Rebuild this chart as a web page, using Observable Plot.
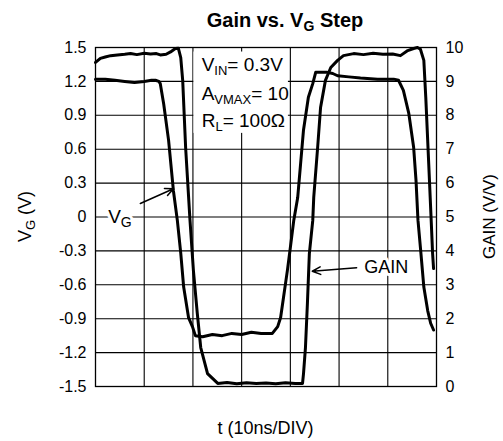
<!DOCTYPE html>
<html>
<head>
<meta charset="utf-8">
<script src="https://cdn.jsdelivr.net/npm/d3@7"></script>
<script src="https://cdn.jsdelivr.net/npm/@observablehq/plot@0.6"></script>
<style>
  html, body { margin: 0; padding: 0; background: #fff; }
  #chart { width: 503px; height: 441px; }
</style>
</head>
<body>
<div id="chart"></div>
<script>
// ---- data (time in ns, 10 ns per division) ----
const gainT = [0, 1, 2, 3.1, 4.5, 6, 7.2, 8.5, 10, 11.3, 12.5, 13.3, 14.5, 15.4, 16.4, 17.0, 17.5, 17.9, 18.5, 19.4, 20.1, 20.9, 21.6, 23.0, 25.1, 27, 29, 31, 33, 35, 37, 39, 41, 42.5, 42.7, 43.1, 43.5, 43.9, 44.6, 44.8, 45.6, 46.2, 47.2, 48.3, 49.7, 50.9, 53.0, 55, 57, 59, 61, 62.6, 64.1, 65.3, 66.1, 66.7, 67.4, 67.8, 68.4, 69.0, 69.2, 69.4];
const gainV = [9.56, 9.68, 9.72, 9.76, 9.78, 9.80, 9.82, 9.79, 9.83, 9.81, 9.82, 9.78, 9.80, 9.87, 9.97, 9.98, 9.7, 9.03, 7.05, 4.9, 3.42, 2.15, 1.15, 0.38, 0.09, 0.12, 0.08, 0.11, 0.09, 0.10, 0.08, 0.11, 0.09, 0.09, 0.38, 1.15, 2.45, 3.92, 4.9, 5.58, 7.05, 8.23, 9.03, 9.41, 9.62, 9.76, 9.82, 9.79, 9.83, 9.80, 9.81, 9.76, 9.91, 9.97, 10.0, 9.95, 9.62, 8.53, 6.58, 4.6, 3.92, 3.48];

const vgT = [0, 2, 4, 6, 8, 10, 11.5, 12.3, 13.0, 13.3, 14.0, 15.0, 16.0, 16.8, 17.5, 18.1, 19.1, 19.9, 20.5, 22, 24, 26, 28, 30, 32, 34, 36.3, 37.4, 38.0, 38.6, 39.4, 40.0, 40.7, 41.5, 42.1, 42.7, 43.7, 44.6, 45.2, 47.6, 48.7, 49.7, 52, 54.4, 57.9, 61.2, 62.2, 63.2, 64.3, 65.3, 65.8, 66.2, 66.8, 67.4, 68.2, 68.8, 69.4];
const vgV = [1.22, 1.22, 1.21, 1.20, 1.19, 1.20, 1.21, 1.21, 1.20, 1.18, 1.0, 0.68, 0.23, -0.03, -0.32, -0.62, -0.89, -0.97, -1.05, -1.06, -1.04, -1.05, -1.03, -1.04, -1.02, -1.03, -1.03, -0.97, -0.89, -0.71, -0.47, -0.27, -0.03, 0.17, 0.47, 0.77, 1.06, 1.18, 1.28, 1.28, 1.27, 1.25, 1.24, 1.23, 1.22, 1.22, 1.21, 1.12, 0.92, 0.62, 0.32, -0.03, -0.32, -0.62, -0.83, -0.94, -1.0];

const leftTicks = [-1.5, -1.2, -0.9, -0.6, -0.3, 0, 0.3, 0.6, 0.9, 1.2, 1.5];
const rightTickLabels = ["0", "1", "2", "3", "4", "5", "6", "7", "8", "9", "10"];
const gridT = [10, 20, 30, 40, 50, 60];
const gridV = [-1.2, -0.9, -0.6, -0.3, 0, 0.3, 0.6, 0.9, 1.2];

const titleText = ["Gain vs. V", "G", " Step"];
const yLabelLeft = ["V", "G", " (V)"];
const yLabelRight = "GAIN (V/V)";
const xLabel = "t (10ns/DIV)";
const noteLines = [["V", "IN", "= 0.3V"], ["A", "VMAX", "= 10"], ["R", "L", "= 100Ω"]];

// annotation anchors (data coordinates: ns, volts)
const noteBox = [{x1: 20.2, x2: 39.6, y1: 0.74, y2: 1.46}];
const noteAnchor = {t: 21.9, v: [1.34, 1.085, 0.845]};
const vgLabel = {t: 2.7, v: 0};
const vgArrow = [{x1: 9.2, y1: 0.12, x2: 16.0, y2: 0.25}];
const gainLabel = {t: 59.8, v: -0.44};
const gainArrow = [{x1: 53.6, y1: -0.45, x2: 44.5, y2: -0.48}];

const gainToV = g => g * 0.3 - 1.5;
const gainData = gainT.map((t, i) => ({t, v: gainToV(gainV[i])}));
const vgData = vgT.map((t, i) => ({t, v: vgV[i]}));

const FONT = "'Liberation Sans', Arial, Helvetica, sans-serif";

const plot = Plot.plot({
  width: 503,
  height: 441,
  marginLeft: 95,
  marginRight: 67,
  marginTop: 47,
  marginBottom: 55,
  style: {fontFamily: FONT, fontSize: "16px", color: "#000", background: "#fff"},
  x: {domain: [0, 70], axis: null},
  y: {domain: [-1.5, 1.5]},
  marks: [
    Plot.ruleX(gridT, {stroke: "#000", strokeWidth: 1.1}),
    Plot.ruleY(gridV, {stroke: "#000", strokeWidth: 1.1}),
    Plot.rect(noteBox, {x1: "x1", x2: "x2", y1: "y1", y2: "y2", fill: "#fff"}),
    Plot.line(vgData, {x: "t", y: "v", stroke: "#000", strokeWidth: 3, curve: "linear"}),
    Plot.line(gainData, {x: "t", y: "v", stroke: "#000", strokeWidth: 3, curve: "linear"}),
    Plot.arrow(vgArrow, {x1: "x1", y1: "y1", x2: "x2", y2: "y2", stroke: "#000", strokeWidth: 1.5, headLength: 9, headAngle: 50}),
    Plot.arrow(gainArrow, {x1: "x1", y1: "y1", x2: "x2", y2: "y2", stroke: "#000", strokeWidth: 1.5, headLength: 9, headAngle: 50}),
    Plot.frame({stroke: "#000", strokeWidth: 1.3}),
    Plot.axisY({ticks: leftTicks, tickSize: 0, tickPadding: 9, fontSize: 16, label: null,
      tickFormat: d => (Math.abs(d) < 1e-9 ? "0" : d.toFixed(1))}),
    Plot.axisY({anchor: "right", ticks: leftTicks, tickSize: 0, tickPadding: 9, fontSize: 16, label: null,
      tickFormat: d => rightTickLabels[leftTicks.indexOf(d)]})
  ]
});

document.getElementById("chart").appendChild(plot);

const sx = plot.scale("x"), sy = plot.scale("y");
const svg = d3.select(plot);
const X = v => sx.apply(v), Y = v => sy.apply(v);

function richText(g, x, y, parts, opts = {}) {
  const size = opts.size || 16;
  const t = g.append("text")
    .attr("x", x).attr("y", y)
    .attr("font-family", FONT)
    .attr("font-size", size)
    .attr("font-weight", opts.weight || "normal")
    .attr("text-anchor", opts.anchor || "start")
    .attr("fill", "#000");
  if (opts.transform) t.attr("transform", opts.transform);
  if (opts.halo) t.attr("stroke", "#fff").attr("stroke-width", 6).attr("paint-order", "stroke").attr("stroke-linejoin", "round");
  const sub = opts.subSize || Math.round(size * 0.72);
  const dy = opts.subDy || 4;
  t.append("tspan").text(parts[0]);
  if (parts.length > 1) {
    t.append("tspan").attr("font-size", sub).attr("dy", dy).text(parts[1]);
    if (parts[2]) t.append("tspan").attr("dy", -dy).text(parts[2]);
  }
  return t;
}

const layer = svg.append("g");
// title
richText(layer, 285, 26.5, titleText, {size: 20, weight: "bold", anchor: "middle", subSize: 14, subDy: 4});
// axis titles
const ly = (Y(-1.5) + Y(1.5)) / 2;
richText(layer, 0, 0, yLabelLeft, {size: 18, anchor: "middle", subSize: 13, transform: `translate(31,${ly}) rotate(-90)`});
richText(layer, 0, 0, [yLabelRight], {size: 17, anchor: "middle", transform: `translate(495,${ly}) rotate(-90)`});
richText(layer, (X(0) + X(70)) / 2, 434, [xLabel], {size: 18, anchor: "middle"});
// notes
noteLines.forEach((p, i) => richText(layer, X(noteAnchor.t), Y(noteAnchor.v[i]) + 6, p, {size: 19, subSize: 13, subDy: 4}));
// V_G label
richText(layer, X(vgLabel.t), Y(vgLabel.v) + 6.5, ["V", "G"], {size: 19, halo: true, subSize: 14, subDy: 4});
// GAIN label
richText(layer, X(gainLabel.t), Y(gainLabel.v) + 6.5, ["GAIN"], {size: 18, anchor: "middle", halo: true});
</script>
</body>
</html>
